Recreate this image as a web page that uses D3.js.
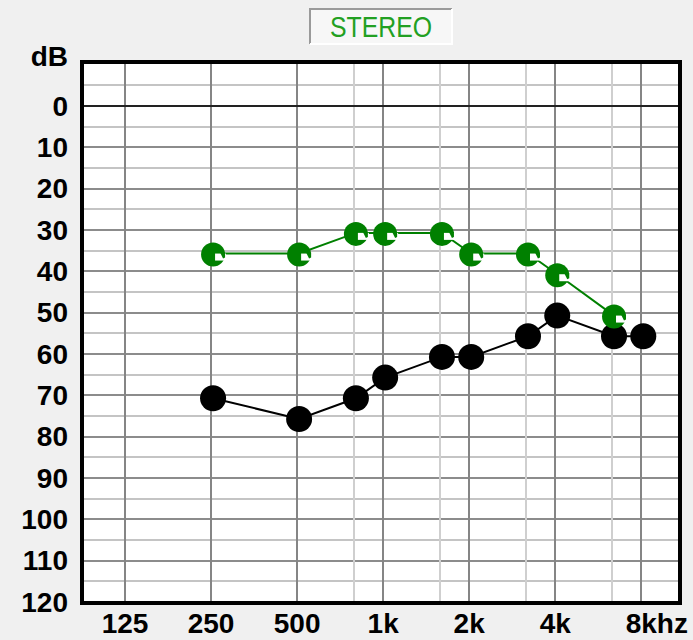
<!DOCTYPE html>
<html>
<head>
<meta charset="utf-8">
<script src="https://cdn.jsdelivr.net/npm/d3@7"></script>
<style>
  html, body { margin: 0; padding: 0; background: #f0f0f0; }
  svg { display: block; }
  text { font-family: "Liberation Sans", Arial, sans-serif; }
</style>
</head>
<body>
<svg id="chart" width="693" height="640"></svg>
<script>
// audiogram data (dB HL per test frequency)
const freqs = [250, 500, 750, 1000, 1500, 2000, 3000, 4000, 6000, 8000];
const greenDb = [35, 35, 30, 30, 30, 35, 35, 40, 50, null];
const blackDb = [70, 75, 70, 65, 60, 60, 55, 50, 55, 55];

const gridFreqs = [125, 250, 500, 750, 1000, 1500, 2000, 3000, 4000, 6000, 8000];
const tickFreqs = [125, 250, 500, 1000, 2000, 4000, 8000];
const tickLabels = ["125", "250", "500", "1k", "2k", "4k", "8k"];
const dbTicks = [0, 10, 20, 30, 40, 50, 60, 70, 80, 90, 100, 110, 120];
const dbMinor = [-5, 5, 15, 25, 35, 45, 55, 65, 75, 85, 95, 105, 115];

var svg = d3.select("#chart");

// octave slot: interoctave frequencies sit at 2/3 of the octave like the original audiometer
function slot(f) {
  var l = Math.log2(f / 125), i = Math.floor(l + 1e-9);
  return (l - i < 1e-6) ? i : i + 0.66;
}
function isOctave(f) { var l = Math.log2(f / 125); return Math.abs(l - Math.round(l)) < 1e-6; }

var x = d3.scaleLinear().domain([-0.5, 6.45]).range([82, 680]);
var y = d3.scaleLinear().domain([-10, 120]).range([64.5, 602]);

// STEREO box
var box = svg.append("g");
box.append("rect").attr("x", 310).attr("y", 9).attr("width", 142).attr("height", 35).attr("fill", "#f7f7f7");
box.append("path").attr("d", "M310,44V9H452").attr("fill", "none").attr("stroke", "#9a9a9a").attr("stroke-width", 2);
box.append("path").attr("d", "M452,9V44H310").attr("fill", "none").attr("stroke", "#ffffff").attr("stroke-width", 2);
box.append("text").attr("x", 381).attr("y", 37).attr("text-anchor", "middle")
  .attr("font-size", 30).attr("fill", "#22a022")
  .attr("textLength", 102).attr("lengthAdjust", "spacingAndGlyphs")
  .text("STEREO");

// plot area
svg.append("rect").attr("x", 82).attr("y", 62).attr("width", 598).attr("height", 540).attr("fill", "#fff");

var grid = svg.append("g").attr("shape-rendering", "crispEdges");
grid.selectAll(".hminor").data(dbMinor).join("line")
  .attr("x1", 82).attr("x2", 680).attr("y1", d => y(d)).attr("y2", d => y(d))
  .attr("stroke", "#c4c4c4").attr("stroke-width", 2);
grid.selectAll(".hmajor").data(dbTicks.filter(d => d > 0 && d < 120)).join("line")
  .attr("x1", 82).attr("x2", 680).attr("y1", d => y(d)).attr("y2", d => y(d))
  .attr("stroke", "#8c8c8c").attr("stroke-width", 2);
grid.selectAll(".v").data(gridFreqs).join("line")
  .attr("y1", 62).attr("y2", 602).attr("x1", d => x(slot(d))).attr("x2", d => x(slot(d)))
  .attr("stroke", d => isOctave(d) ? "#858585" : "#cfcfcf").attr("stroke-width", 2);
grid.append("line").attr("x1", 82).attr("x2", 680).attr("y1", y(0)).attr("y2", y(0))
  .attr("stroke", "#222").attr("stroke-width", 2);

// frame
svg.append("rect").attr("x", 82).attr("y", 62).attr("width", 598).attr("height", 541)
  .attr("fill", "none").attr("stroke", "#000").attr("stroke-width", 4);

// axis labels
var yl = svg.append("g").attr("font-size", 28).attr("font-weight", "bold").attr("text-anchor", "end");
yl.selectAll("text").data(dbTicks).join("text")
  .attr("x", 68).attr("y", d => y(d)).attr("dy", "0.35em").text(d => d);
yl.append("text").attr("x", 68).attr("y", 56).attr("dy", "0.35em").text("dB");

var xl = svg.append("g").attr("font-size", 28).attr("font-weight", "bold");
xl.selectAll("text").data(tickFreqs).join("text")
  .attr("x", d => x(slot(d))).attr("y", 633)
  .attr("text-anchor", "middle")
  .text((d, i) => tickLabels[i]);
// last label reads "8khz" with "8k" centred on its line
var last = xl.selectAll("text").filter((d, i) => i === tickFreqs.length - 1);
var w = last.node().getComputedTextLength();
last.attr("text-anchor", "start").attr("x", x(slot(8000)) - w / 2).append("tspan").text("hz");

// series
var marks = svg.append("g").attr("transform", "translate(2,3)");
var line = d3.line().defined(d => d[1] != null).x(d => x(slot(d[0]))).y(d => y(d[1]));
var blackPts = freqs.map((f, i) => [f, blackDb[i]]);
var greenPts = freqs.map((f, i) => [f, greenDb[i]]).filter(d => d[1] != null);

marks.append("path").datum(blackPts).attr("d", line)
  .attr("fill", "none").attr("stroke", "#000").attr("stroke-width", 2);
marks.selectAll(".bk").data(blackPts).join("circle")
  .attr("cx", d => x(slot(d[0]))).attr("cy", d => y(d[1])).attr("r", 13).attr("fill", "#000");

marks.append("path").datum(greenPts).attr("d", line)
  .attr("fill", "none").attr("stroke", "#008000").attr("stroke-width", 2);
var gm = marks.selectAll(".gm").data(greenPts).join("g")
  .attr("transform", d => "translate(" + x(slot(d[0])) + "," + (y(d[1]) + 1) + ")");
gm.append("circle").attr("r", 12).attr("fill", "#008000");
gm.append("path").attr("d", "M2,-1 H13 V6 H2 Z").attr("fill", "#fff");
gm.append("path").attr("d", "M7,-2 H12 V3 L10,4 Z").attr("fill", "#008000");
</script>
</body>
</html>
